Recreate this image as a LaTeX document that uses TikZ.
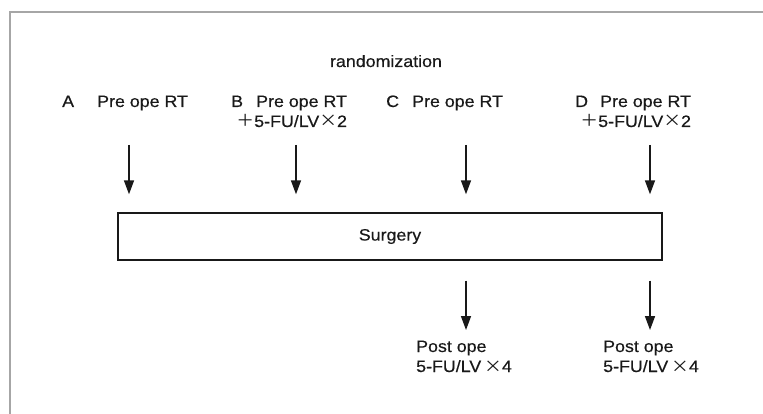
\documentclass[tikz,border=0pt]{standalone}
\usepackage{fontspec}
\setmainfont{Liberation Sans}[FakeBold=0.35]
\newfontfamily\cjk{Noto Sans CJK JP}
\usetikzlibrary{arrows.meta}
\newcommand\wtxt[1]{\scalebox{1.08}[1]{#1}}
\tikzset{
  lbl/.style={inner sep=0pt, anchor=base west, font=\fontsize{16.5}{19}\selectfont, text=black!90},
  arr/.style={line width=1.5pt, draw=black!90, -{Triangle[length=14pt,width=10pt]}},
  frame/.style={line width=1.6pt, draw=black!35},
  boxst/.style={draw=black!90, line width=1.4pt, minimum width=544pt, minimum height=47pt, inner sep=0pt}
}
\begin{document}
\begin{tikzpicture}[x=1pt,y=-1pt]
\useasboundingbox (0,0) rectangle (763,414);
\fill[white] (0,0) rectangle (763,414);
\draw[frame] (10,414) -- (10,12) -- (763,12);
\node[lbl, anchor=base] (rand) at (386,67) {\wtxt{randomization}};
% group labels
\node[lbl] (A) at (62,107) {\wtxt{A}};
\node[lbl] (Apre) at (97,107) {\wtxt{Pre ope RT}};
\node[lbl] (B) at (231,107) {\wtxt{B}};
\node[lbl] (Bpre) at (256,107) {\wtxt{Pre ope RT}};
\node[lbl, anchor=base east] (Bchem) at (Bpre.east |- 0,127) {\wtxt{{\cjk ＋}5-FU/LV{\cjk ×}2}};
\node[lbl] (C) at (386,107) {\wtxt{C}};
\node[lbl] (Cpre) at (412,107) {\wtxt{Pre ope RT}};
\node[lbl] (D) at (575,107) {\wtxt{D}};
\node[lbl] (Dpre) at (600,107) {\wtxt{Pre ope RT}};
\node[lbl, anchor=base east] (Dchem) at (Dpre.east |- 0,127) {\wtxt{{\cjk ＋}5-FU/LV{\cjk ×}2}};
% surgery box
\node[boxst, lbl, anchor=center] (surg) at (390,236.5) {\wtxt{Surgery}};
% top arrows
\coordinate (ta) at (129,145);
\coordinate (tb) at (296,145);
\coordinate (tc) at (466,145);
\coordinate (td) at (650,145);
\foreach \t in {ta,tb,tc,td}
  \draw[arr, shorten >=18pt] (\t) -- (\t |- surg.north);
% post-op text
\node[lbl] (Cpost) at (416,352) {\wtxt{Post ope}};
\node[lbl] (Cpost2) at (416,372) {\wtxt{5-FU/LV\,{\cjk ×}4}};
\node[lbl] (Dpost) at (603,352) {\wtxt{Post ope}};
\node[lbl] (Dpost2) at (603,372) {\wtxt{5-FU/LV\,{\cjk ×}4}};
% bottom arrows
\coordinate (bc) at (466,330);
\coordinate (bd) at (650,330);
\draw[arr, shorten <=20pt] (surg.south -| bc) -- (bc);
\draw[arr, shorten <=20pt] (surg.south -| bd) -- (bd);
\end{tikzpicture}
\end{document}
